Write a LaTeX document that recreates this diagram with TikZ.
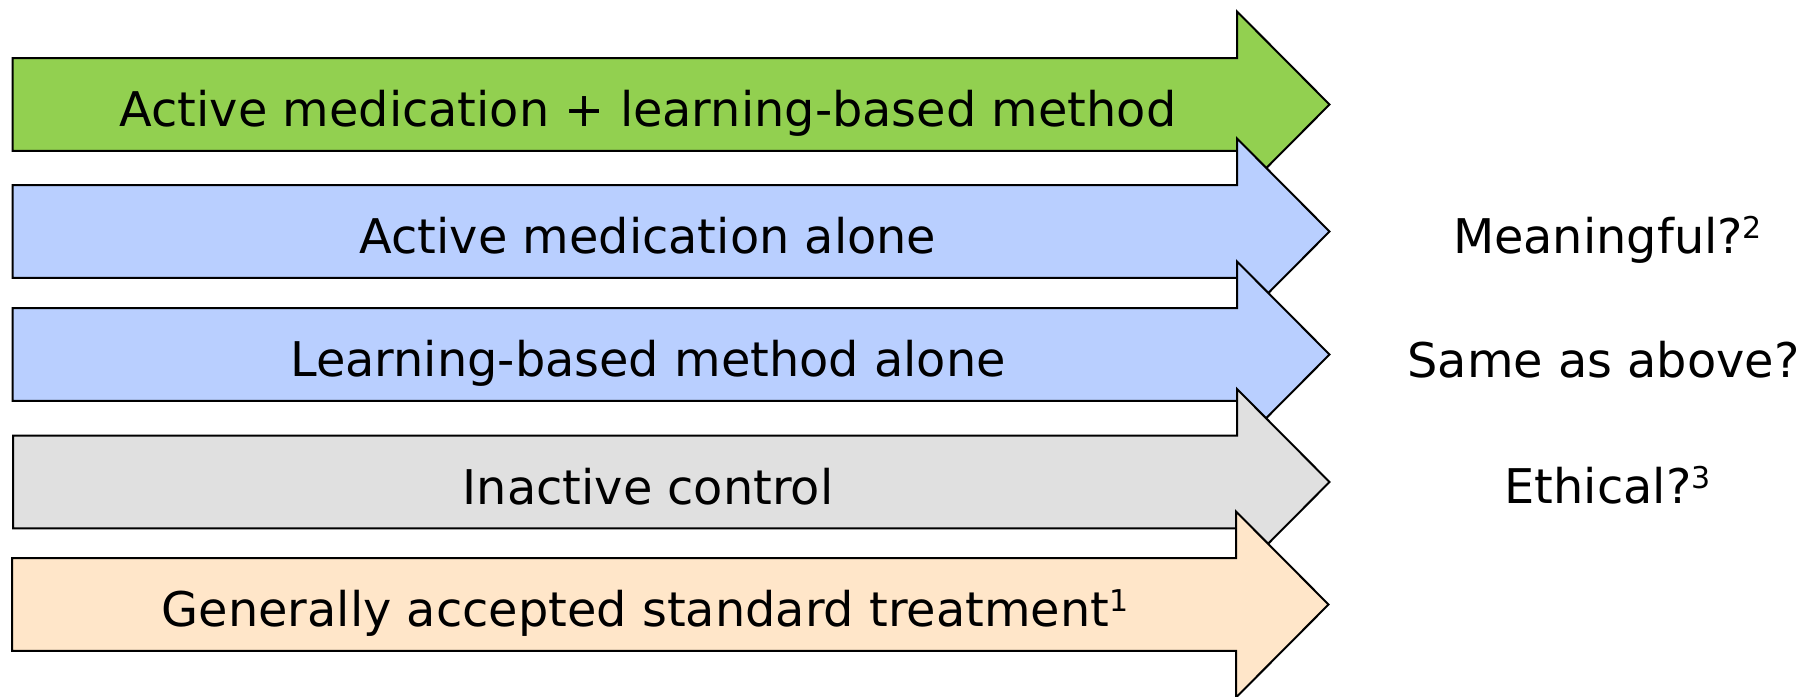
\documentclass[tikz,border=0pt]{standalone}
\usepackage{fontspec}
\setmainfont{DejaVu Sans}
\definecolor{cgreen}{HTML}{92D050}
\definecolor{cblue}{HTML}{B9CFFF}
\definecolor{cgrey}{HTML}{E0E0E0}
\definecolor{cpeach}{HTML}{FFE6C9}
\newcommand\supnum[1]{\raisebox{15pt}{\fontsize{30}{30}\selectfont #1}}
\tikzset{
  bigarrow/.style={draw=black, line width=2pt, line join=miter},
  armtext/.style={anchor=base, inner sep=0pt, font=\fontsize{47.8}{57}\selectfont},
}
% #1 fill, #2 left x, #3 shaft end x, #4 tip x, #5 centre y
\newcommand\drawbigarrow[5]{%
  \path[bigarrow, fill=#1]
    (#2, #5-46.3) -- (#3, #5-46.3) -- (#3, #5-93) -- (#4, #5)
    -- (#3, #5+93) -- (#3, #5+46.3) -- (#2, #5+46.3) -- cycle;}
\begin{document}
\begin{tikzpicture}[x=1pt, y=-1pt]
\useasboundingbox (0,0) rectangle (1804,696);
\drawbigarrow{cgreen}{12.5}{1237}{1329.5}{104.5}
\node[armtext] (t1) at (648,126.5) {Active medication + learning-based method};
\drawbigarrow{cblue}{12.5}{1237}{1329.5}{231.5}
\node[armtext] (t2) at (648,253.5) {Active medication alone};
\drawbigarrow{cblue}{12.5}{1237}{1329.5}{354.5}
\node[armtext] (t3) at (648,376.5) {Learning-based method alone};
\drawbigarrow{cgrey}{13}{1237}{1329.5}{482}
\node[armtext] (t4) at (648,504) {Inactive control};
\drawbigarrow{cpeach}{12}{1236}{1328.5}{604.5}
\node[armtext] (t5) at (645,626.5) {Generally accepted standard treatment\supnum{1}};
\node[armtext] (q1) at (1607.5,253.3) {Meaningful?\supnum{2}};
\node[armtext] (q2) at (1603.5,377.3) {Same as above?};
\node[armtext] (q3) at (1607.5,503.3) {Ethical?\supnum{3}};
\end{tikzpicture}
\end{document}
